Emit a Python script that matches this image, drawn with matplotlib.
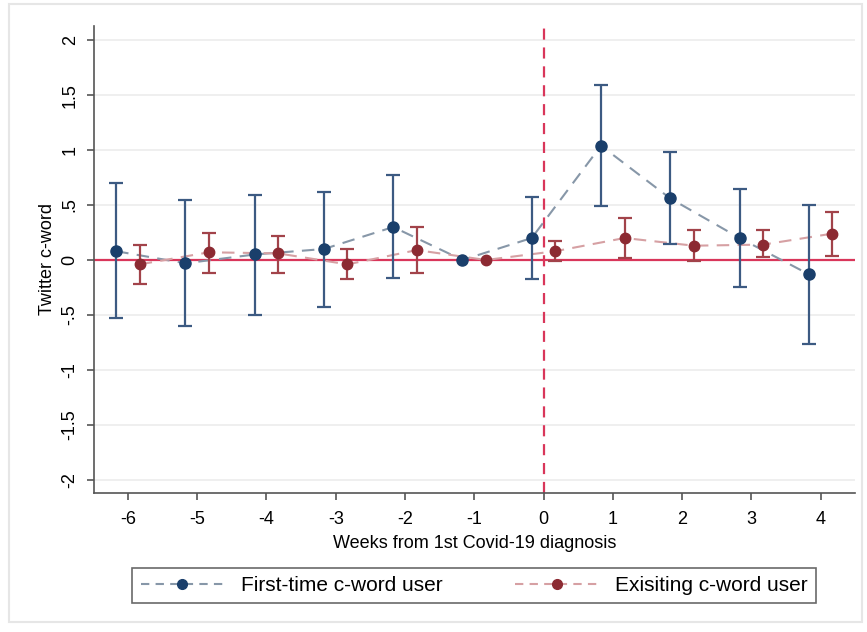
import matplotlib
matplotlib.use("Agg")
import matplotlib.pyplot as plt
from matplotlib.lines import Line2D
from matplotlib.patches import Rectangle
import numpy as np

plt.rcParams["font.family"] = ["Liberation Sans", "DejaVu Sans"]

weeks = [-6, -5, -4, -3, -2, -1, 0, 1, 2, 3, 4]

# first-time c-word users
first_coef = [0.08, -0.03, 0.05, 0.10, 0.30, 0.0, 0.20, 1.04, 0.56, 0.20, -0.13]
first_hi = [0.70, 0.55, 0.59, 0.62, 0.77, 0.0, 0.57, 1.59, 0.98, 0.65, 0.50]
first_lo = [-0.53, -0.60, -0.50, -0.43, -0.16, 0.0, -0.17, 0.49, 0.15, -0.25, -0.76]

# existing c-word users
exist_coef = [-0.04, 0.07, 0.06, -0.04, 0.09, 0.0, 0.08, 0.20, 0.13, 0.14, 0.24]
exist_hi = [0.14, 0.25, 0.22, 0.10, 0.30, 0.0, 0.17, 0.38, 0.27, 0.27, 0.44]
exist_lo = [-0.22, -0.12, -0.12, -0.17, -0.12, 0.0, -0.01, 0.02, -0.01, 0.03, 0.04]

yticks = [2, 1.5, 1, 0.5, 0, -0.5, -1, -1.5, -2]
ytick_labels = ["2", "1.5", "1", ".5", "0", "-.5", "-1", "-1.5", "-2"]

navy = "#1a3f6b"
navy_bar = "#3c5a82"
navy_line = "#8797a8"
maroon = "#8c2a32"
maroon_bar = "#a2434a"
maroon_line = "#d6a0a3"
crimson = "#d9365a"

fig = plt.figure(figsize=(8.67, 6.32), dpi=100)
fig.patches.append(Rectangle((9 / 867, 1 - 622 / 632), 853 / 867, 618 / 632,
                             transform=fig.transFigure, fill=False,
                             edgecolor="#e6e6e6", linewidth=1.5))
ax = fig.add_axes([0.1084, 0.22, 0.878, 0.739])

x = np.array(weeks, dtype=float)
xb = x - 0.17
xr = x + 0.17

fc = np.array(first_coef)
ec = np.array(exist_coef)

ax.axhline(0, color=crimson, linewidth=1.6, zorder=2)
ax.axvline(0, color=crimson, linewidth=1.6, linestyle=(0, (5, 3.5)), zorder=2)

ax.plot(xb, fc, color=navy_line, linestyle=(0, (6, 4)), linewidth=1.5, zorder=3)
ax.plot(xr, ec, color=maroon_line, linestyle=(0, (6, 4)), linewidth=1.5, zorder=3)

mask = np.array(first_hi) != np.array(first_lo)
ax.errorbar(xb[mask], fc[mask],
            yerr=[fc[mask] - np.array(first_lo)[mask], np.array(first_hi)[mask] - fc[mask]],
            fmt="none", ecolor=navy_bar, elinewidth=1.6, capsize=5, capthick=1.6, zorder=4)
mask = np.array(exist_hi) != np.array(exist_lo)
ax.errorbar(xr[mask], ec[mask],
            yerr=[ec[mask] - np.array(exist_lo)[mask], np.array(exist_hi)[mask] - ec[mask]],
            fmt="none", ecolor=maroon_bar, elinewidth=1.6, capsize=5, capthick=1.6, zorder=4)

ax.plot(xb, fc, "o", color=navy, markersize=8, zorder=5)
ax.plot(xr, ec, "o", color=maroon, markersize=7.5, zorder=5)

ax.set_xlim(-6.49, 4.5)
ax.set_ylim(-2.12, 2.13)
ax.set_xticks(weeks)
ax.set_xticklabels([str(w) for w in weeks])
ax.set_yticks(yticks)
ax.set_yticklabels(ytick_labels, rotation=90, va="center")
ax.tick_params(axis="both", labelsize=13, length=5, width=1.2, color="#555555")
ax.tick_params(axis="y", pad=6)
ax.tick_params(axis="x", pad=8)

ax.grid(axis="y", color="#ececec", linewidth=1.2, zorder=0)
ax.set_axisbelow(True)
for s in ["top", "right"]:
    ax.spines[s].set_visible(False)
for s in ["left", "bottom"]:
    ax.spines[s].set_color("#555555")
    ax.spines[s].set_linewidth(1.2)

ax.set_xlabel("Weeks from 1st Covid-19 diagnosis", fontsize=13, labelpad=5)
ax.set_ylabel("Twitter c-word", fontsize=13, labelpad=4)

handles = [
    Line2D([], [], color=navy_line, linestyle=(0, (4, 3)), linewidth=1.5,
           marker="o", markerfacecolor=navy, markeredgecolor=navy, markersize=7),
    Line2D([], [], color=maroon_line, linestyle=(0, (4, 3)), linewidth=1.5,
           marker="o", markerfacecolor=maroon, markeredgecolor=maroon, markersize=7),
]
leg = fig.legend(handles, ["First-time c-word user", "Exisiting c-word user"],
                 ncol=2, loc="center", bbox_to_anchor=(0.547, 0.0736),
                 fontsize=15, fancybox=False, edgecolor="#444444",
                 handlelength=4, columnspacing=3.5, borderpad=0.4)
leg.get_frame().set_linewidth(1.2)

fig.savefig("out.png", dpi=100)
